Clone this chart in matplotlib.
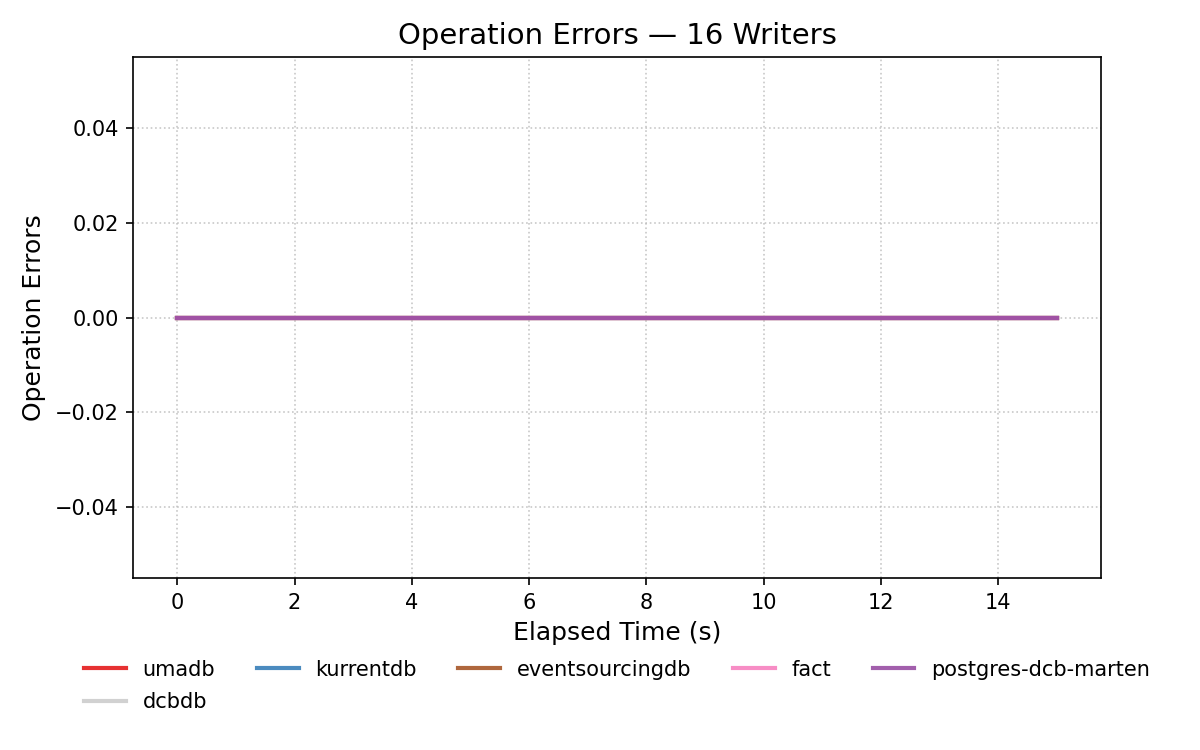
import numpy as np
import matplotlib
matplotlib.use("Agg")
import matplotlib.pyplot as plt

# elapsed time samples (s) and error counts per store
elapsed = [0, 1, 2, 3, 4, 5, 6, 7, 8, 9, 10, 11, 12, 13, 14, 15]
stores = ["umadb", "dcbdb", "kurrentdb", "eventsourcingdb", "fact", "postgres-dcb-marten"]
errors = {
    "umadb": [0] * 16,
    "dcbdb": [0] * 16,
    "kurrentdb": [0] * 16,
    "eventsourcingdb": [0] * 16,
    "fact": [0] * 16,
    "postgres-dcb-marten": [0] * 16,
}
colors = {
    "umadb": "#e41a1c",
    "dcbdb": "#cccccc",
    "kurrentdb": "#377eb8",
    "eventsourcingdb": "#a65628",
    "fact": "#f781bf",
    "postgres-dcb-marten": "#984ea3",
}

fig, ax = plt.subplots(figsize=(8, 5), dpi=150)
fig.subplots_adjust(left=0.111, right=0.9175, top=0.924, bottom=0.229)

for name in stores:
    ax.plot(elapsed, errors[name], label=name, color=colors[name], lw=2, alpha=0.9)

ax.set_title("Operation Errors \u2014 16 Writers", fontsize=14)
ax.set_xlabel("Elapsed Time (s)", fontsize=12)
ax.set_ylabel("Operation Errors", fontsize=12)
ax.tick_params(labelsize=10)
ax.grid(True, linestyle=":", color="#bbbbbb", alpha=0.8)

#legend below the axes, no frame
ax.legend(loc="upper center", bbox_to_anchor=(0.5, -0.12), ncol=5, frameon=False,
          fontsize=10, labelspacing=0.6)

fig.savefig("out.png", dpi=150)
